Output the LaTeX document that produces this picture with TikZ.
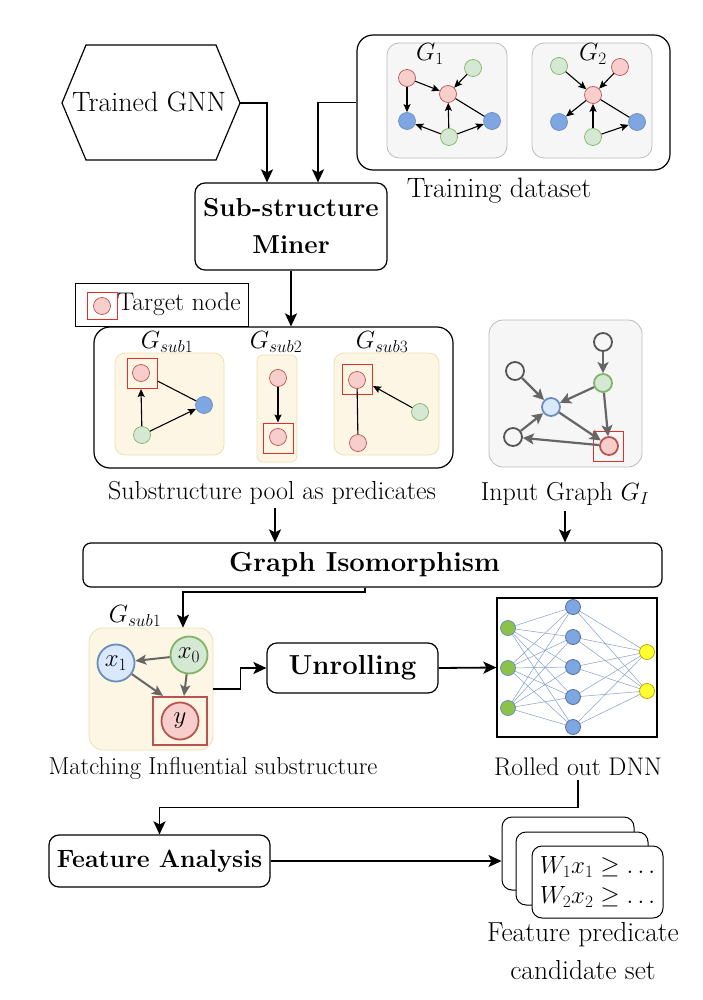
\documentclass[tikz,border=0pt]{standalone}
\usepackage{fontspec}
\usetikzlibrary{arrows.meta,calc}
\definecolor{rfill}{HTML}{F8CECC}\definecolor{rdraw}{HTML}{B85450}
\definecolor{gfill}{HTML}{D5E8D4}\definecolor{gdraw}{HTML}{82B366}
\definecolor{bfill}{HTML}{7EA6E0}\definecolor{bdraw}{HTML}{6C8EBF}
\definecolor{lbfill}{HTML}{DAE8FC}
\definecolor{yfill}{HTML}{FDF6E4}\definecolor{ydraw}{HTML}{EEDFB0}
\definecolor{gbfill}{HTML}{F6F6F6}\definecolor{gbdraw}{HTML}{BBBBBB}
\definecolor{tred}{HTML}{E0302A}
\definecolor{egray}{HTML}{666666}
\definecolor{ngray}{HTML}{555555}
\definecolor{dgreen}{HTML}{8BC34A}
\definecolor{dyellow}{HTML}{FFFF33}\definecolor{dyd}{HTML}{B8A800}
\newcommand{\fsz}[1]{\fontsize{#1}{1.2\dimexpr#1pt\relax}\selectfont}
\begin{document}
\begin{tikzpicture}[x=1pt,y=-1pt,
  every node/.style={font=\fontsize{26}{31}\selectfont},
  flow/.style={line width=1.8pt,-{Stealth[length=13pt,width=12pt,inset=3pt]}},
  proc/.style={draw,rounded corners=10pt,line width=1.2pt,fill=white,inner sep=0pt,align=center},
  gn/.style={circle,inner sep=0pt,minimum size=17pt,line width=0.7pt},
  rn/.style={gn,fill=rfill,draw=rdraw},
  grn/.style={gn,fill=gfill,draw=gdraw},
  bn/.style={gn,fill=bfill,draw=bdraw},
  sarr/.style={line width=1.1pt,-{Stealth[length=8pt,width=7pt,inset=1.5pt]}},
  sline/.style={line width=1.1pt},
  tsq/.style={draw=tred,line width=1pt,inner sep=0pt,minimum width=30pt,minimum height=30pt},
  gbox/.style={draw=gbdraw,fill=gbfill,rounded corners=12pt,line width=0.8pt,inner sep=0pt},
  ybox/.style={draw=ydraw,fill=yfill,rounded corners=10pt,line width=0.8pt,inner sep=0pt},
  ign/.style={circle,inner sep=0pt,minimum size=18pt,line width=1.8pt,draw=ngray,fill=gbfill},
  igarr/.style={draw=egray,line width=2.2pt,-{Stealth[length=11pt,width=11pt,inset=2.5pt]}},
  mn/.style={circle,inner sep=0pt,minimum size=37pt,line width=1.8pt,font=\fontsize{26}{30}\selectfont},
  marr/.style={draw=egray,line width=2pt,-{Stealth[length=11pt,width=10pt,inset=2.5pt]}},
  dn/.style={circle,inner sep=0pt,minimum size=15pt,line width=0.8pt},
  card/.style={draw,rounded corners=10pt,line width=1pt,fill=white,inner sep=0pt}
]
\useasboundingbox (0,0) rectangle (702,1000);

% ---------- Trained GNN hexagon ----------
\coordinate (hL) at (62,103); \coordinate (hTL) at (86,45); \coordinate (hTR) at (216,45);
\coordinate (gnnR) at (240,103); \coordinate (hBR) at (216,160); \coordinate (hBL) at (86,160);
\draw[line width=1.2pt] (hL) -- (hTL) -- (hTR) -- (gnnR) -- (hBR) -- (hBL) -- cycle;
\node[font=\fontsize{28}{33}\selectfont] (gnn) at (149,102) {Trained GNN};

% ---------- Training dataset ----------
\node[draw,rounded corners=16pt,line width=1.2pt,minimum width=313pt,minimum height=135pt,inner sep=0pt] (train) at (513.5,102.5) {};
\node[gbox,minimum width=120pt,minimum height=115pt] (g1box) at (447,100.5) {};
\node[gbox,minimum width=120pt,minimum height=115pt] (g2box) at (592,100.5) {};
\node (g1lab) at (430,54) {$G_1$};
\node (g2lab) at (593,54) {$G_2$};
% G1
\node[rn] (a1) at (407,78) {};
\node[grn] (b1) at (473,68) {};
\node[rn] (c1) at (448,94) {};
\node[bn] (d1) at (407,121) {};
\node[grn] (e1) at (449,137) {};
\node[bn] (f1) at (492,121) {};
\draw[sarr] (a1) -- (d1);
\draw[sarr] (a1) -- (c1);
\draw[sarr] (b1) -- (c1);
\draw[sarr] (e1) -- (c1);
\draw[sarr] (e1) -- (d1);
\draw[sarr] (e1) -- (f1);
\draw[sline] (c1) -- (f1);
% G2
\node[grn] (a2) at (559,66) {};
\node[rn] (b2) at (620,67) {};
\node[rn] (c2) at (593,95) {};
\node[bn] (d2) at (559,122) {};
\node[grn] (e2) at (593,137) {};
\node[bn] (f2) at (637,122) {};
\draw[sarr] (a2) -- (c2);
\draw[sarr] (b2) -- (c2);
\draw[sarr] (c2) -- (d2);
\draw[sarr] (e2) -- (c2);
\draw[sarr] (e2) -- (f2);
\draw[sline] (c2) -- (f2);
\node[font=\fontsize{28}{33}\selectfont] (trainlab) at (499,191) {Training dataset};

% ---------- Sub-structure Miner ----------
\node[proc,minimum width=192pt,minimum height=87pt,font=\fontsize{26}{37}\selectfont\bfseries] (miner) at (291,226.5) {Sub-structure\\Miner};
\draw[flow] (gnnR) -| ($(miner.north)+(-24,0)$);
\draw[flow] (train.west) -| ($(miner.north)+(27,0)$);

% ---------- Legend ----------
\node[draw,line width=1pt,minimum width=173pt,minimum height=43pt,inner sep=0pt,fill=white] (legend) at (161.5,304.5) {};
\node[rn] (legc) at (102,306) {};
\node[tsq,minimum width=30pt,minimum height=27pt] (legsq) at (102,306) {};
\node[font=\fontsize{25.5}{30}\selectfont] (legtxt) at (179,304) {Target node};

% ---------- Substructure pool ----------
\node[draw,rounded corners=16pt,line width=1.2pt,minimum width=359pt,minimum height=141pt,inner sep=0pt] (pool) at (273.5,397.5) {};
\draw[flow] (miner.south) -- (miner.south |- pool.north);
\node[ybox,minimum width=109pt,minimum height=102pt] (sub1) at (169.5,404) {};
\node[ybox,rounded corners=6pt,minimum width=40pt,minimum height=107pt] (sub2) at (277,408.5) {};
\node[ybox,minimum width=105pt,minimum height=102pt] (sub3) at (386.5,404) {};
\node (s1lab) at (167,342) {$G_{sub1}$};
\node (s2lab) at (276,342) {$G_{sub2}$};
\node (s3lab) at (382,342) {$G_{sub3}$};
% sub1
\node[rn] (p1a) at (141,373) {};
\node[tsq] (p1sq) at (142,373.5) {};
\node[bn] (p1b) at (204,405) {};
\node[grn] (p1c) at (142,435) {};
\draw[sarr] (p1c) -- (p1sq.south -| p1a);
\draw[sarr] (p1c) -- (p1b);
\draw[sline] (p1sq.east |- 0,381) -- (p1b);
% sub2
\node[rn] (p2a) at (278,378) {};
\node[rn] (p2b) at (278,437) {};
\node[tsq] (p2sq) at (278.5,438) {};
\draw[sarr] (p2a) -- (p2sq.north -| p2a);
% sub3
\node[rn] (p3a) at (357,380) {};
\node[tsq] (p3sq) at (357.5,379.5) {};
\node[grn] (p3b) at (420,412) {};
\node[rn] (p3c) at (358,443) {};
\draw[sarr] (p3b) -- (p3sq.east |- 0,386);
\draw[sline] (p3c) -- (p3a);
\node (poollab) at (272,493) {Substructure pool as predicates};

% ---------- Input graph ----------
\node[gbox,rounded corners=14pt,minimum width=153pt,minimum height=147pt] (igbox) at (565.5,393.5) {};
\node[ign] (it) at (603,342) {};
\node[ign] (ilt) at (515,371) {};
\node[ign,draw=gdraw,fill=gfill] (ig) at (603,383) {};
\node[ign,draw=bdraw,fill=lbfill] (ib) at (551,407) {};
\node[ign] (ilb) at (513,437) {};
\node[ign,draw=rdraw,fill=rfill] (ir) at (609,446) {};
\node[tsq] (isq) at (608,446) {};
\draw[igarr] (it) -- (ig);
\draw[igarr] (ilt) -- (ib);
\draw[igarr] (ig) -- (ib);
\draw[igarr] (ig) -- (ir);
\draw[igarr] (ib) -- (ir);
\draw[igarr] (ilb) -- (ib);
\draw[igarr] (ir) -- (ilb);
\node (iglab) at (565,494) {Input Graph $G_I$};

% ---------- Graph Isomorphism ----------
\node[proc,rounded corners=8pt,minimum width=579pt,minimum height=44pt,font=\fontsize{27.5}{33}\selectfont\bfseries] (gi) at (372.5,565) {\hspace*{-16pt}Graph Isomorphism};
\draw[flow] (275,508) coordinate (pin) -- (pin |- gi.north);
\draw[flow] (iglab.south -| 565,0) ++(0,2) coordinate (iin) -- (iin |- gi.north);

% ---------- Matching substructure ----------
\node[ybox,minimum width=124pt,minimum height=122pt,rounded corners=14pt] (msub) at (151,689) {};
\node (mlab) at (135,616) {$G_{sub1}$};
\node[mn,fill=lbfill,draw=bdraw] (x1) at (116,663) {$x_1$};
\node[mn,fill=gfill,draw=gdraw] (x0) at (189,655) {$x_0$};
\node[mn,fill=rfill,draw=rdraw] (yy) at (180,721) {$y$};
\node[draw=rdraw,line width=2.2pt,inner sep=0pt,minimum width=54pt,minimum height=48pt] (ysq) at (180,721) {};
\draw[marr] (x0) -- (x1);
\draw[marr] (x0) -- (ysq.north -| 184,0);
\draw[marr] (x1) -- (ysq.north -| 163,0);
\draw[flow] ($(gi.south)+(-7.5,0)$) -- ++(0,4) -| ($(msub.north)+(32,0)$);
\node[font=\fontsize{24.5}{30}\selectfont] (msublab) at (213,768) {Matching Influential substructure};

% ---------- Unrolling ----------
\node[proc,minimum width=171pt,minimum height=50pt,font=\fontsize{27.5}{33}\selectfont\bfseries] (unroll) at (352.5,668) {Unrolling};
\draw[flow] (msub.east) -- ++(27,0) |- (unroll.west);

% ---------- DNN ----------
\node[draw,line width=1.2pt,minimum width=160pt,minimum height=139pt,inner sep=0pt] (dnn) at (577,667.5) {};
\draw[flow] (unroll.east) -- (dnn.west);
\foreach \i/\y in {1/628,2/668,3/708} \coordinate (l1\i) at (508,\y);
\foreach \i/\y in {1/607,2/637,3/667,4/697,5/727} \coordinate (l2\i) at (573,\y);
\foreach \i/\y in {1/652,2/691} \coordinate (l3\i) at (647,\y);
\foreach \i in {1,2,3}{\foreach \j in {1,...,5}{\draw[bdraw!85,line width=0.5pt] (l1\i) -- (l2\j);}}
\foreach \i in {1,...,5}{\foreach \j in {1,2}{\draw[bdraw!85,line width=0.5pt] (l2\i) -- (l3\j);}}
\foreach \i in {1,2,3} \node[dn,fill=dgreen,draw=bdraw] (n1\i) at (l1\i) {};
\foreach \i in {1,...,5} \node[dn,fill=bfill,draw=bdraw!80!black] (n2\i) at (l2\i) {};
\foreach \i in {1,2} \node[dn,fill=dyellow,draw=dyd] (n3\i) at (l3\i) {};
\node[font=\fontsize{25.5}{30}\selectfont] (dnnlab) at (578,767) {Rolled out DNN};

% ---------- Feature Analysis ----------
\node[proc,minimum width=221pt,minimum height=52pt,font=\fontsize{25}{30}\selectfont\bfseries] (fa) at (159.5,861) {Feature Analysis};
\draw[flow] (dnnlab.south) -- ++(0,28) -| (fa.north);
\node[card,minimum width=132pt,minimum height=73pt] (card1) at (568,853.5) {};
\node[card,minimum width=132pt,minimum height=73pt] (card2) at (582,868.5) {};
\node[card,minimum width=131pt,minimum height=72pt,align=left,font=\fontsize{24}{30}\selectfont] (card3) at (597.5,882) {$W_1x_1\geq\dots$\\$W_2x_2\geq\dots$};
\draw[flow] (fa.east) -- (fa.east -| card1.west);
\node[align=center,font=\fontsize{27.5}{38}\selectfont] (fplab) at (583,951) {Feature predicate\\candidate set};
\end{tikzpicture}
\end{document}
